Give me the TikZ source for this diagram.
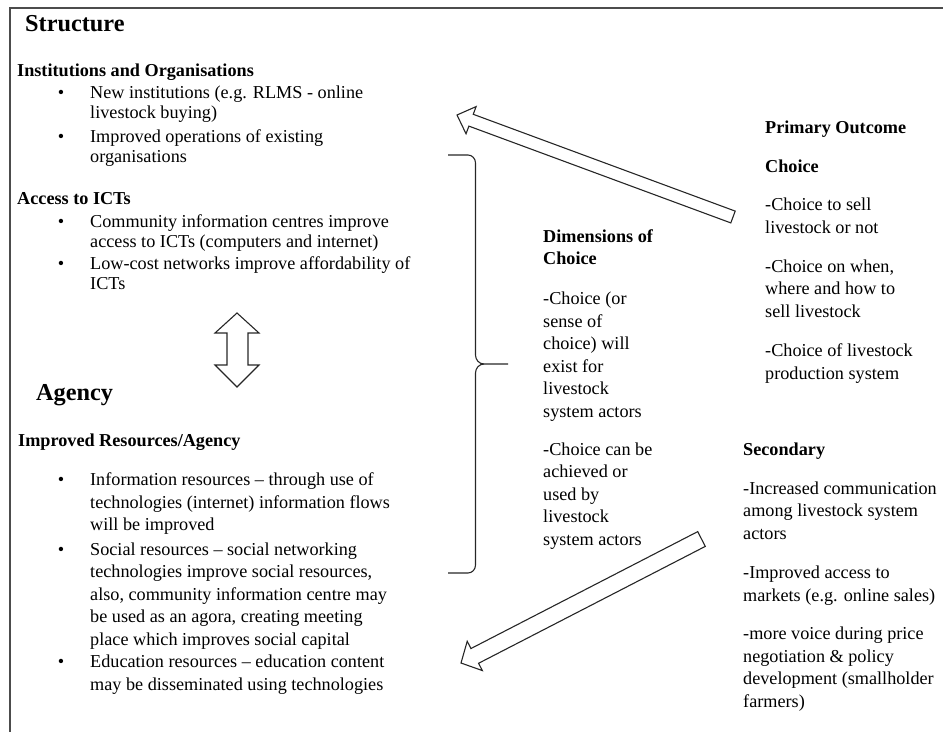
\documentclass[tikz,border=0pt]{standalone}
\usepackage{fontspec}
\setmainfont{Liberation Serif}
\usetikzlibrary{calc}

\tikzset{
  txt/.style={anchor=base west, align=left, inner sep=0pt, font=\fontsize{18.2}{22.5}\selectfont},
  tight/.style={font=\fontsize{18.2}{20}\selectfont},
  hd/.style={txt, font=\bfseries\fontsize{18.2}{22}\selectfont},
  bighd/.style={txt, font=\bfseries\fontsize{24.3}{28}\selectfont},
  frame/.style={line width=1.2pt, black!70},
  hollow/.style={line width=1.1pt, black!85, line join=miter},
}
\newcommand\bul{\llap{\textbullet\hspace{26pt}}}
% block arrow: tail, tip, half shaft, half head, head length
\newcommand\hollowarrow[5]{%
  \coordinate (hb) at ($(#2)!#5!(#1)$);
  \draw[hollow] ($(#1)!#3!90:(#2)$) -- ($(hb)!#3!90:(#2)$) -- ($(hb)!#4!90:(#2)$) -- (#2)
    -- ($(hb)!#4!-90:(#2)$) -- ($(hb)!#3!-90:(#2)$) -- ($(#1)!#3!-90:(#2)$) -- cycle;}

\begin{document}
\begin{tikzpicture}[x=1pt, y=-1pt]
  \useasboundingbox (0,0) rectangle (943,732);
  \draw[frame] (943,8) -- (10,8) -- (10,732);

  % structure side (multi-line nodes sit on their last baseline)
  \node[bighd] (struct) at (25,31) {Structure};
  \node[hd] (inst) at (17,76) {Institutions and Organisations};
  \node[txt,tight] (inst1) at (90,118.5) {\bul New institutions (e.g. RLMS - online\\livestock buying)};
  \node[txt,tight] (inst2) at (90,162) {\bul Improved operations of existing\\organisations};
  \node[hd] (ict) at (17,204) {Access to ICTs};
  \node[txt,tight] (ict1) at (90,247) {\bul Community information centres improve\\access to ICTs (computers and internet)};
  \node[txt,tight] (ict2) at (90,289) {\bul Low-cost networks improve affordability of\\ICTs};

  \draw[hollow] (237,313) -- (259,333) -- (248,333) -- (248,365) -- (259,365) -- (237,387)
    -- (215,365) -- (227,365) -- (227,333) -- (215,333) -- cycle;

  % agency side
  \node[bighd] (agency) at (36,400) {Agency};
  \node[hd] (res) at (18,446) {Improved Resources/Agency};
  \node[txt] (res1) at (90,530.5) {\bul Information resources -- through use of\\technologies (internet) information flows\\will be improved};
  \node[txt] (res2) at (90,645) {\bul Social resources -- social networking\\technologies improve social resources,\\also, community information centre may\\be used as an agora, creating meeting\\place which improves social capital};
  \node[txt] (res3) at (90,690) {\bul Education resources -- education content\\may be disseminated using technologies};

  % brace
  \draw[hollow, line join=round] (448,155) -- (468,155) to[out=0,in=90] (475.5,163) -- (475.5,355)
    to[out=-90,in=180] (484,364) -- (508,364);
  \draw[hollow, line join=round] (484,364) to[out=180,in=90] (475.5,373) -- (475.5,565)
    to[out=-90,in=0] (468,573) -- (448,573);

  % dimensions
  \node[hd] (dim) at (543,264) {Dimensions of\\Choice};
  \node[txt] (dim1) at (543,417) {-Choice (or\\sense of\\choice) will\\exist for\\livestock\\system actors};
  \node[txt] (dim2) at (543,545) {-Choice can be\\achieved or\\used by\\livestock\\system actors};

  % outcomes
  \node[hd] (prim) at (765,133) {Primary Outcome};
  \node[hd] (choice) at (765,172) {Choice};
  \node[txt] (c1) at (765,233) {-Choice to sell\\livestock or not};
  \node[txt] (c2) at (765,317) {-Choice on when,\\where and how to\\sell livestock};
  \node[txt] (c3) at (765,379) {-Choice of livestock\\production system};
  \node[hd] (sec) at (743,455) {Secondary};
  \node[txt] (s1) at (743,539) {-Increased communication\\among livestock system\\actors};
  \node[txt] (s2) at (743,601) {-Improved access to\\markets (e.g. online sales)};
  \node[txt] (s3) at (743,707) {-more voice during price\\negotiation \& policy\\development (smallholder\\farmers)};

  % arrows back to structure and agency
  \coordinate (primtail) at (733,217);
  \coordinate (structtip) at (457,115);
  \hollowarrow{primtail}{structtip}{6.3pt}{14.5pt}{15pt}
  \coordinate (sectail) at (701.5,539);
  \coordinate (agencytip) at (461,663);
  \hollowarrow{sectail}{agencytip}{8.3pt}{16.5pt}{15.5pt}
\end{tikzpicture}
\end{document}
